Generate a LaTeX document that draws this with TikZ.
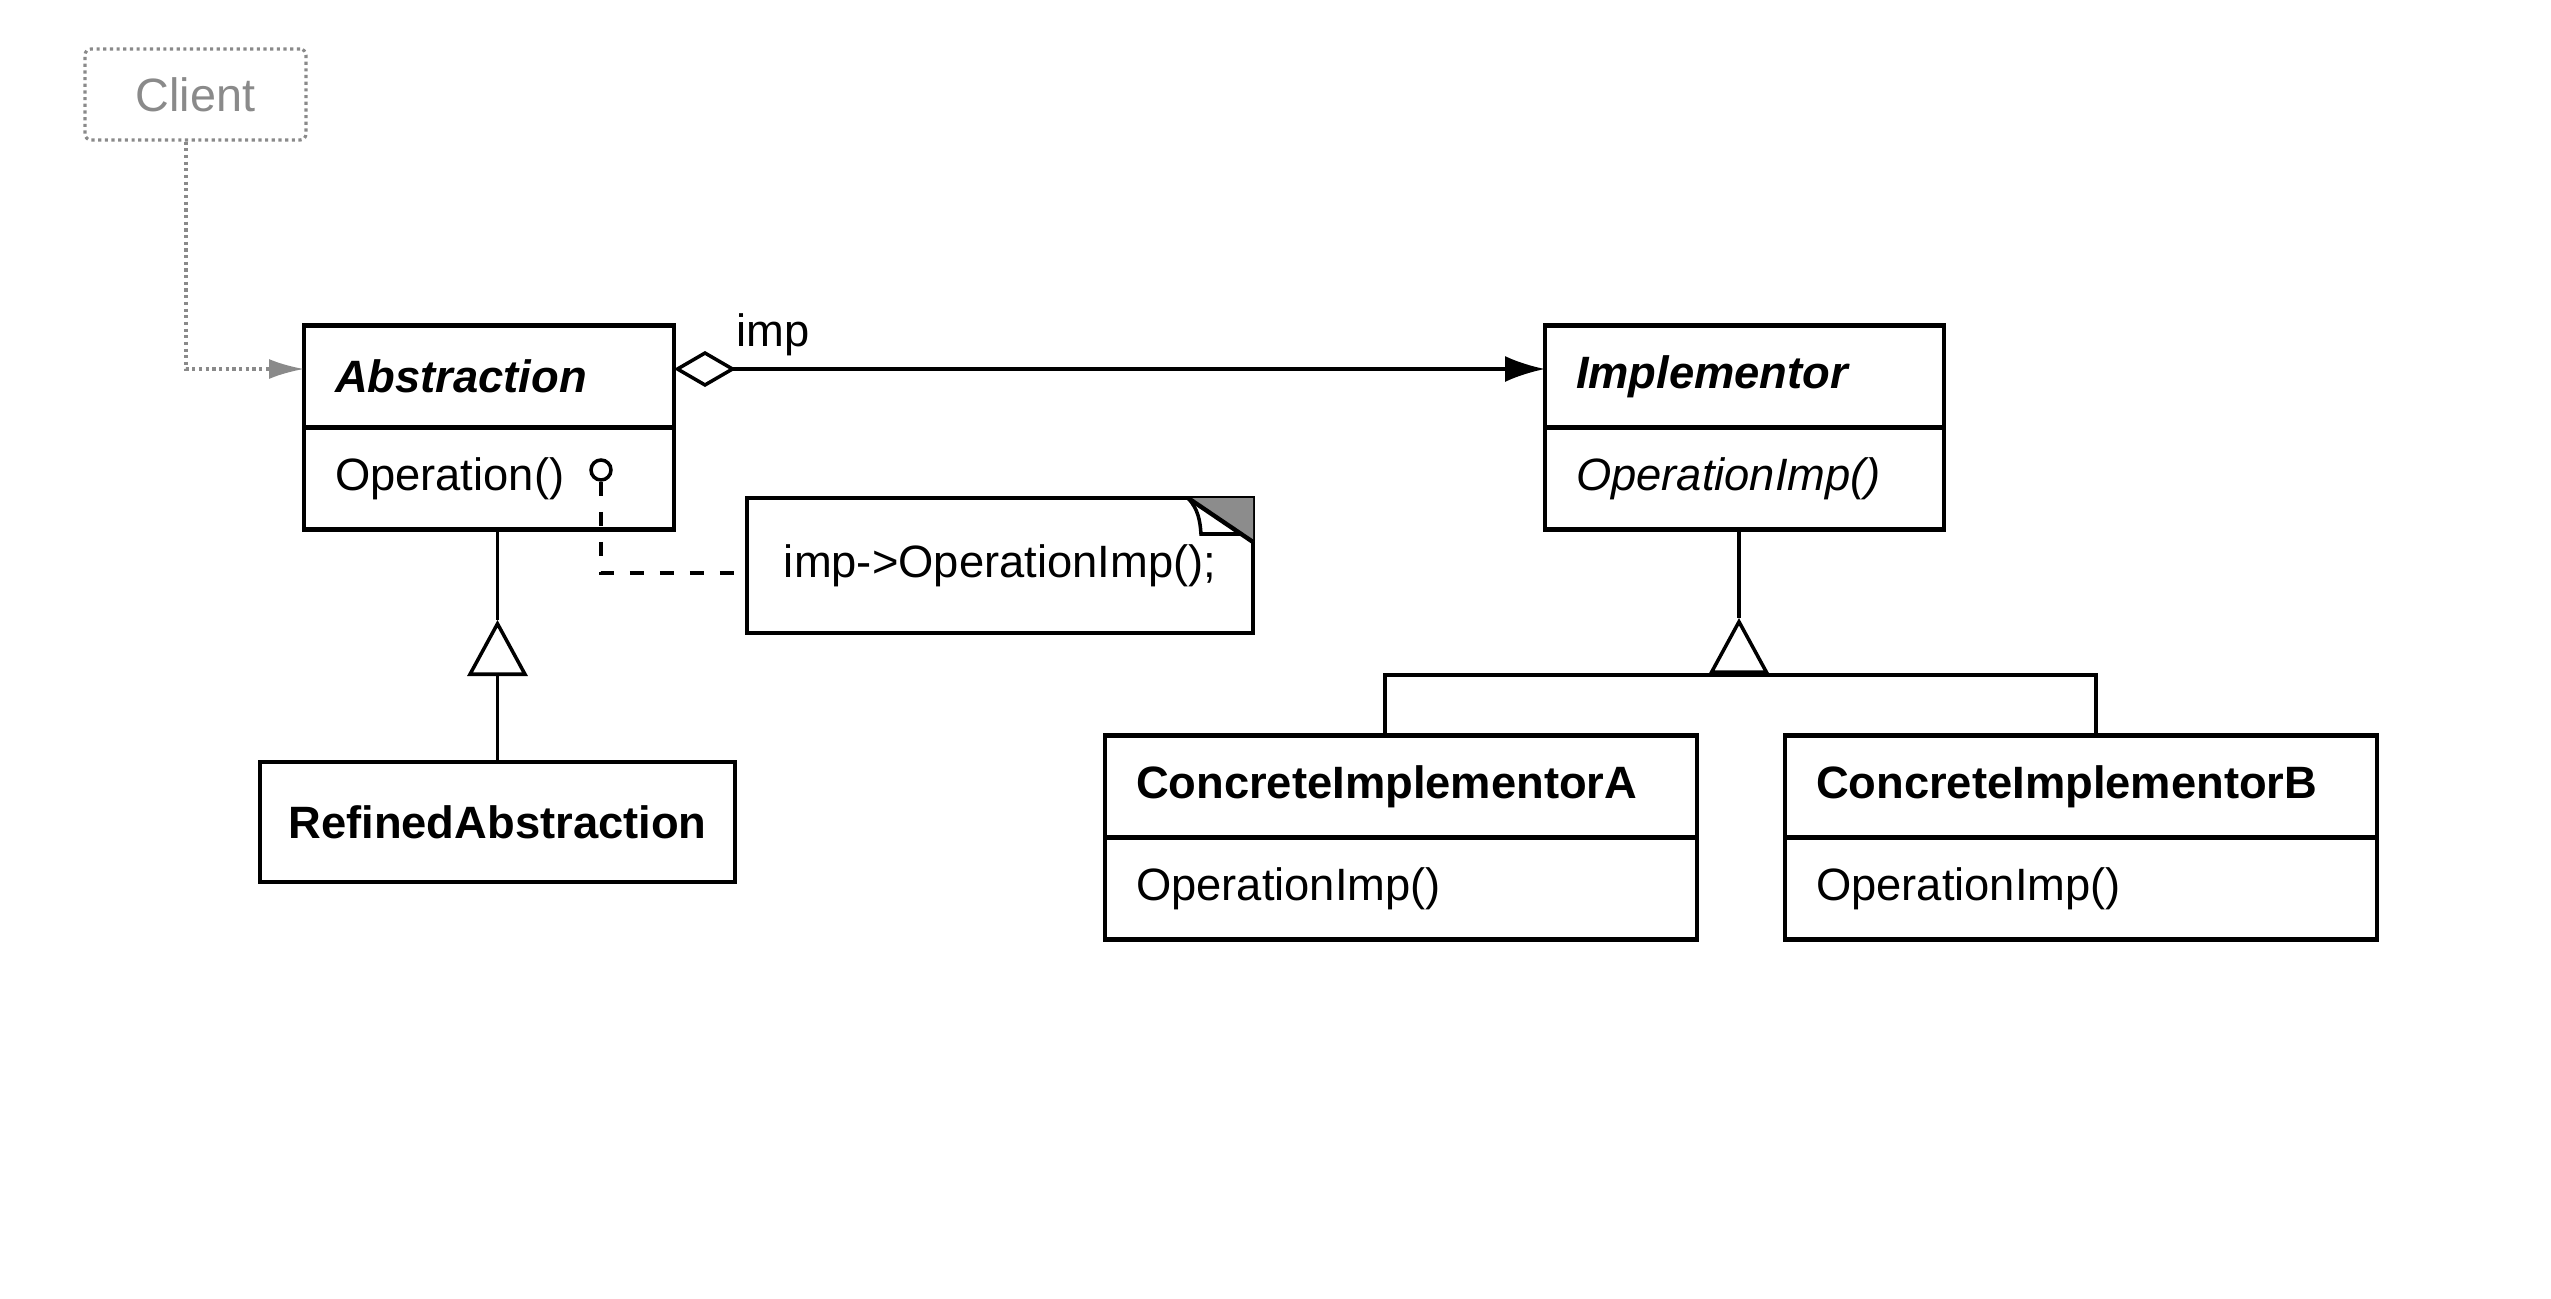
\documentclass[tikz,border=0pt]{standalone}
\usepackage{fontspec}
\setmainfont{Liberation Sans}
\usetikzlibrary{arrows.meta,positioning,calc}
\definecolor{clientgray}{HTML}{8A8A8A}
\definecolor{foldgray}{HTML}{8C8C8C}
\tikzset{cls/.style={draw,line width=1.25pt,outer sep=0pt,minimum height=1.02cm,text width=#1,align=left,inner xsep=0.31cm,font=\fontsize{12.9}{15}\selectfont},plain/.style={draw,line width=1.25pt,outer sep=0pt,minimum width=4.75cm,minimum height=1.2cm,font=\fontsize{12.9}{15}\selectfont},clientbox/.style={draw=clientgray,densely dotted,line width=0.9pt,rounded corners=0.06cm,text=clientgray,minimum width=2.21cm,minimum height=0.91cm,font=\fontsize{13.3}{15}\selectfont},notebox/.style={draw,line width=1.25pt,outer sep=0pt,minimum width=5.06cm,minimum height=1.35cm,font=\fontsize{12.9}{15}\selectfont},opdot/.style={circle,draw,line width=1pt,inner sep=0pt,minimum size=0.2cm},edge/.style={line width=1pt},assoc/.style={edge,{Diamond[open,length=0.62cm,width=0.36cm]}-{Latex[length=0.40cm,width=0.26cm]},font=\fontsize{12.9}{15}\selectfont},clientlink/.style={draw=clientgray,densely dotted,line width=0.9pt,-{Latex[length=0.35cm,width=0.2cm,fill=clientgray]}},notelink/.style={edge,dash pattern=on 0.14cm off 0.16cm},gen/.style={edge,-{Triangle[open,length=0.56cm,width=0.6cm,line width=1pt]}}}

\begin{document}
\begin{tikzpicture}
\useasboundingbox (0,0) rectangle (25.51,-12.99);
\node[clientbox] (client) at (1.955,-0.945) {Client};
\node[cls=3.08cm] (abs) at (4.89,-3.765) {\textbf{\textit{Abstraction}}};
\node[cls=3.08cm,below=0pt of abs] (absop) {Operation()};
\node[cls=3.37cm] (impl) at (17.445,-3.765) {\textbf{\textit{Implementor}}};
\node[cls=3.37cm,below=0pt of impl] (implop) {\textit{OperationImp()}};
\node[notebox] (note) at (10.00,-5.655) {imp->OperationImp();};
\node[opdot] (dot) at (6.01,-4.70) {};
\node[plain] (refined) at (4.975,-8.22) {\textbf{RefinedAbstraction}};
\node[cls=5.30cm] (cia) at (14.01,-7.865) {\textbf{ConcreteImplementorA}};
\node[cls=5.30cm,below=0pt of cia] (ciaop) {OperationImp()};
\node[cls=5.30cm] (cib) at (20.81,-7.865) {\textbf{ConcreteImplementorB}};
\node[cls=5.30cm,below=0pt of cib] (cibop) {OperationImp()};
\coordinate (fork) at (17.39,-6.75);
\fill[foldgray] ($(note.north east)+(-0.65,0)$) -- (note.north east) -- ($(note.north east)+(0,-0.44)$) -- cycle;
\draw[line width=1.25pt] ($(note.north east)+(-0.65,0)$) -- ($(note.north east)+(0,-0.44)$);
\draw[line width=1pt] ($(note.north east)+(-0.65,0)$) .. controls ($(note.north east)+(-0.55,-0.11)$) and ($(note.north east)+(-0.53,-0.22)$) .. ($(note.north east)+(-0.52,-0.36)$) -- ($(note.north east)+(-0.12,-0.36)$);
\draw[clientlink] ([xshift=-0.095cm]client.south) |- ([yshift=0.075cm]abs.west);
\draw[assoc] ([yshift=0.075cm]abs.east) -- node[pos=0.114,above]{imp} ([yshift=0.075cm]impl.west);
\draw[notelink] (dot) |- ([yshift=-0.075cm]note.west);
\draw[gen] (refined.north) -- ++(0,1.42) coordinate (refapex);\draw[edge] (refapex) -- (refapex |- absop.south);
\draw[edge] ([xshift=-0.16cm]cia.north) |- (fork) -| ([xshift=0.15cm]cib.north);
\draw[gen] (fork) -- ++(0,0.57) coordinate (implapex);\draw[edge] (implapex) -- (implapex |- implop.south);
\end{tikzpicture}
\end{document}
